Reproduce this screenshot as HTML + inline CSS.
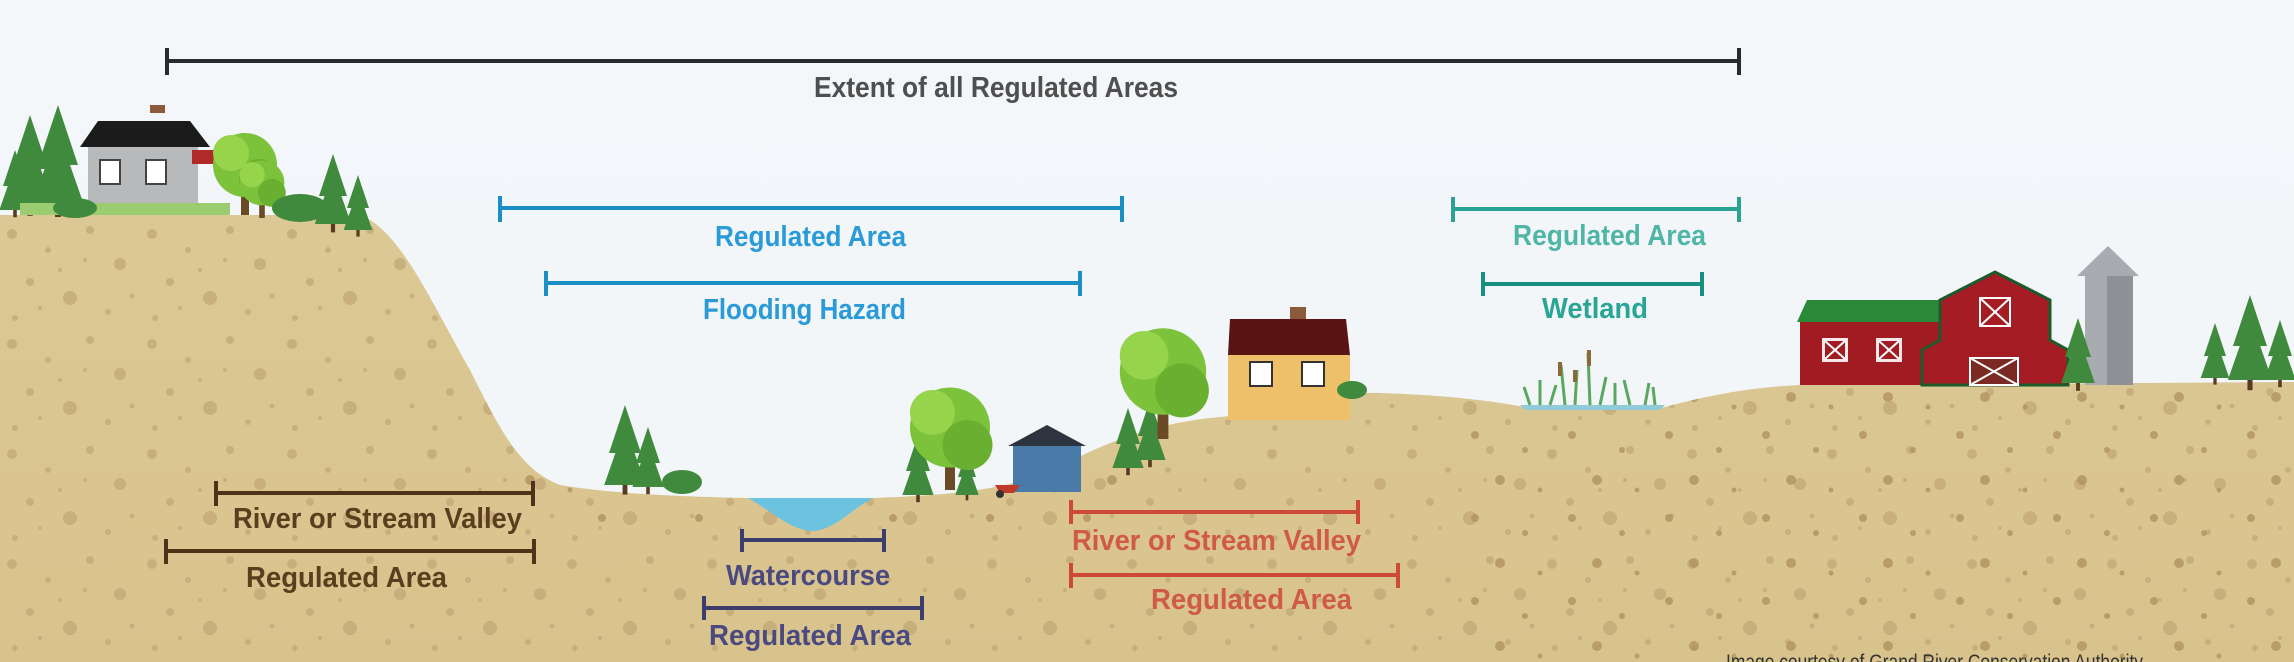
<!DOCTYPE html>
<html><head><meta charset="utf-8"><style>
html,body{margin:0;padding:0;width:2294px;height:662px;overflow:hidden;background:#f3f7fa}
svg{display:block}
text{font-family:"Liberation Sans Narrow","Liberation Sans",sans-serif;font-weight:bold;}
</style></head><body>
<svg width="2294" height="662" viewBox="0 0 2294 662" xmlns="http://www.w3.org/2000/svg">
<defs>
<linearGradient id="sky" x1="0" y1="0" x2="0" y2="1"><stop offset="0" stop-color="#f4f7fa"/><stop offset="1" stop-color="#f1f5f8"/></linearGradient>
<linearGradient id="sand" x1="0" y1="0" x2="0" y2="1"><stop offset="0" stop-color="#dccb98"/><stop offset="1" stop-color="#d9c38d"/></linearGradient>
<pattern id="dots" width="140" height="110" patternUnits="userSpaceOnUse">
<g fill="#c2a877" opacity="0.75">
<circle cx="12" cy="14" r="5"/><circle cx="48" cy="30" r="3"/><circle cx="90" cy="10" r="4"/><circle cx="120" cy="44" r="6"/>
<circle cx="30" cy="62" r="4"/><circle cx="70" cy="78" r="7"/><circle cx="108" cy="92" r="3"/><circle cx="15" cy="98" r="3"/>
<circle cx="60" cy="50" r="2"/><circle cx="132" cy="76" r="2.5"/><circle cx="85" cy="40" r="2"/><circle cx="40" cy="88" r="2"/>
</g></pattern>
<pattern id="dots2" width="97" height="83" patternUnits="userSpaceOnUse">
<g fill="#b0935f" opacity="0.8">
<circle cx="20" cy="20" r="4"/><circle cx="70" cy="35" r="3"/><circle cx="45" cy="65" r="5"/><circle cx="85" cy="75" r="2.5"/>
</g></pattern>
<g id="pine"><polygon points="0,-100 -20,-40 -12,-40 -26,0 26,0 12,-40 20,-40" fill="#3f8a3c"/><rect x="-3" y="0" width="6" height="12" fill="#5a3b1f"/></g>
<g id="leaf"><rect x="-4" y="0" width="8" height="40" fill="#6b4a26"/><circle cx="0" cy="-10" r="32" fill="#7cc23a"/><circle cx="-14" cy="-22" r="18" fill="#96d44c"/><circle cx="14" cy="4" r="20" fill="#6ab030"/></g>
<clipPath id="gc"><path d="M0,215 L360,215 C400,230 430,300 470,370 C500,430 520,470 560,485 C620,495 700,497 748,498 L873,498 C950,495 1020,490 1069,462 C1130,430 1180,420 1230,416 C1300,402 1340,392 1380,393 C1440,395 1490,400 1529,408 L1661,408 C1720,392 1760,387 1800,385 L2294,382 L2294,662 L0,662 Z"/></clipPath>
</defs>
<rect width="2294" height="662" fill="url(#sky)"/>

<!-- ground -->
<g clip-path="url(#gc)">
<rect width="2294" height="662" fill="url(#sand)"/>
<rect width="2294" height="662" fill="url(#dots)"/>
<rect x="1450" y="380" width="844" height="282" fill="url(#dots2)"/>
<rect x="520" y="470" width="600" height="60" fill="url(#dots2)"/>
</g>
<!-- water -->
<path d="M748,498 L873,498 C850,510 835,530 812,531 C790,530 770,510 748,498 Z" fill="#6cc3e0"/>
<path d="M1520,405 L1665,405 L1660,410 L1525,410 Z" fill="#8fcbd8"/>

<!-- left hilltop scene -->
<use href="#pine" transform="translate(30,205) scale(0.9) translate(-30,-205)" x="30" y="205"/>
<use href="#pine" x="58" y="205"/>
<use href="#pine" x="15" y="210" transform="translate(15,210) scale(0.6) translate(-15,-210)"/>
<rect x="150" y="105" width="15" height="8" fill="#8b5a3a"/>
<polygon points="80,147 98,121 190,121 210,147" fill="#1b1b1b"/>
<rect x="88" y="147" width="110" height="64" fill="#b8b9bb"/>
<g fill="#fff" stroke="#444" stroke-width="2"><rect x="100" y="160" width="20" height="24"/><rect x="146" y="160" width="20" height="24"/></g>
<polygon points="192,150 215,150 215,164 192,164" fill="#b02a2a"/>
<rect x="20" y="203" width="210" height="12" fill="#9bcc70"/>
<use href="#leaf" x="245" y="175"/>
<use href="#leaf" x="262" y="190" transform="translate(262,190) scale(0.7) translate(-262,-190)"/>
<ellipse cx="300" cy="208" rx="28" ry="14" fill="#3f8a3c"/>
<use href="#pine" x="333" y="224" transform="translate(333,224) scale(0.7) translate(-333,-224)"/>
<use href="#pine" x="358" y="230" transform="translate(358,230) scale(0.55) translate(-358,-230)"/>
<ellipse cx="75" cy="208" rx="22" ry="10" fill="#3f8a3c"/>

<!-- valley trees -->
<use href="#pine" x="625" y="485" transform="translate(625,485) scale(0.8) translate(-625,-485)"/>
<use href="#pine" x="648" y="487" transform="translate(648,487) scale(0.6) translate(-648,-487)"/>
<ellipse cx="682" cy="482" rx="20" ry="12" fill="#3f8a3c"/>
<use href="#pine" x="918" y="495" transform="translate(918,495) scale(0.6) translate(-918,-495)"/>
<use href="#pine" x="967" y="495" transform="translate(967,495) scale(0.45) translate(-967,-495)"/>
<use href="#leaf" x="950" y="440" transform="translate(950,440) scale(1.25) translate(-950,-440)"/>
<!-- shed -->
<polygon points="1008,446 1047,425 1086,446" fill="#2d3440"/>
<rect x="1013" y="446" width="68" height="46" fill="#4a7aa8"/>
<path d="M995,485 l25,0 l-6,8 l-14,0 Z" fill="#c0392b"/><circle cx="1000" cy="494" r="4" fill="#333"/>
<use href="#pine" x="1128" y="468" transform="translate(1128,468) scale(0.6) translate(-1128,-468)"/>
<use href="#pine" x="1150" y="460" transform="translate(1150,460) scale(0.6) translate(-1150,-460)"/>
<use href="#leaf" x="1163" y="385" transform="translate(1163,385) scale(1.35) translate(-1163,-385)"/>
<!-- yellow house -->
<rect x="1290" y="307" width="16" height="12" fill="#8b5a3a"/>
<polygon points="1228,355 1230,319 1346,319 1350,355" fill="#5a1414"/>
<rect x="1228" y="355" width="122" height="65" fill="#efc06a"/>
<g fill="#fff" stroke="#333" stroke-width="2"><rect x="1250" y="362" width="22" height="24"/><rect x="1302" y="362" width="22" height="24"/></g>
<ellipse cx="1352" cy="390" rx="15" ry="9" fill="#3f8a3c"/>
<!-- wetland plants -->
<g stroke="#5aa860" stroke-width="3" fill="none">
<path d="M1530,405 l-6,-18 M1540,405 l0,-25 M1550,405 l6,-20 M1565,405 l-4,-40 M1575,405 l2,-35 M1590,405 l-2,-52 M1600,405 l6,-28 M1615,405 l0,-22 M1630,405 l-6,-25 M1645,405 l4,-22 M1655,405 l-2,-18"/></g>
<g fill="#8a6a3a"><rect x="1558" y="362" width="4" height="14"/><rect x="1587" y="350" width="4" height="16"/><rect x="1573" y="370" width="4" height="12"/></g>
<!-- barn -->
<polygon points="1797,322 1807,300 1940,300 1940,322" fill="#2a8a3a"/>
<rect x="1800" y="322" width="140" height="63" fill="#a01c22"/>
<g fill="#fff"><rect x="1822" y="338" width="26" height="24" opacity="0.9"/><rect x="1876" y="338" width="26" height="24" opacity="0.9"/></g>
<g fill="#a01c22"><rect x="1825" y="341" width="20" height="18"/><rect x="1879" y="341" width="20" height="18"/></g>
<g stroke="#fff" stroke-width="2"><path d="M1825,341 l20,18 M1845,341 l-20,18 M1879,341 l20,18 M1899,341 l-20,18"/></g>
<polygon points="1922,350 1940,340 1940,300 1995,272 2050,300 2050,340 2068,350 2068,385 1922,385" fill="#a61c24" stroke="#1d5a2a" stroke-width="3"/>
<rect x="1970" y="358" width="48" height="27" fill="#7a2a22" stroke="#fff" stroke-width="2"/>
<path d="M1970,358 l48,27 M2018,358 l-48,27" stroke="#fff" stroke-width="2"/>
<rect x="1980" y="298" width="30" height="28" fill="none" stroke="#fff" stroke-width="2"/>
<path d="M1980,298 l30,28 M2010,298 l-30,28" stroke="#fff" stroke-width="2"/>
<!-- silo -->
<polygon points="2077,276 2108,246 2139,276" fill="#a8abb0"/>
<rect x="2085" y="276" width="48" height="109" fill="#8e9196"/>
<rect x="2085" y="276" width="22" height="109" fill="#a8abb0"/>
<use href="#pine" x="2078" y="383" transform="translate(2078,383) scale(0.65) translate(-2078,-383)"/>
<use href="#pine" x="2215" y="378" transform="translate(2215,378) scale(0.55) translate(-2215,-378)"/>
<use href="#pine" x="2250" y="380" transform="translate(2250,380) scale(0.85) translate(-2250,-380)"/>
<use href="#pine" x="2280" y="380" transform="translate(2280,380) scale(0.6) translate(-2280,-380)"/>

<!-- dimension lines -->
<g stroke-width="4" fill="none">
<g stroke="#2a2a2a"><path d="M167,61 H1739 M167,48 V75 M1739,48 V75"/></g>
<g stroke="#1a8fc4"><path d="M500,208 H1122 M500,196 V222 M1122,196 V222 M546,283 H1080 M546,271 V296 M1080,271 V296"/></g>
<g stroke="#2aa395"><path d="M1453,209 H1739 M1453,197 V222 M1739,197 V222"/></g>
<g stroke="#17907f"><path d="M1483,284 H1702 M1483,272 V296 M1702,272 V296"/></g>
<g stroke="#4e3318"><path d="M216,493 H533 M216,481 V506 M533,481 V506 M166,551 H534 M166,539 V564 M534,539 V564"/></g>
<g stroke="#3d3d6e"><path d="M742,540 H884 M742,529 V552 M884,529 V552 M704,608 H922 M704,596 V620 M922,596 V620"/></g>
<g stroke="#cd4b36"><path d="M1071,512 H1358 M1071,500 V524 M1358,500 V524 M1071,575 H1398 M1071,563 V588 M1398,563 V588"/></g>
</g>

<!-- labels -->
<text x="814" y="97" font-size="29" fill="#4f4f4f" textLength="364" lengthAdjust="spacingAndGlyphs">Extent of all Regulated Areas</text>
<text x="715" y="246" font-size="29" fill="#2a9ad8" textLength="191" lengthAdjust="spacingAndGlyphs">Regulated Area</text>
<text x="703" y="319" font-size="29" fill="#2a9ad8" textLength="203" lengthAdjust="spacingAndGlyphs">Flooding Hazard</text>
<text x="1513" y="245" font-size="29" fill="#4fb5a6" textLength="193" lengthAdjust="spacingAndGlyphs">Regulated Area</text>
<text x="1542" y="318" font-size="29" fill="#2aa595" textLength="106" lengthAdjust="spacingAndGlyphs">Wetland</text>
<text x="233" y="528" font-size="29" fill="#5a3e1e" textLength="289" lengthAdjust="spacingAndGlyphs">River or Stream Valley</text>
<text x="246" y="587" font-size="29" fill="#5a3e1e" textLength="201" lengthAdjust="spacingAndGlyphs">Regulated Area</text>
<text x="726" y="585" font-size="29" fill="#4a4a80" textLength="164" lengthAdjust="spacingAndGlyphs">Watercourse</text>
<text x="709" y="645" font-size="29" fill="#4a4a80" textLength="202" lengthAdjust="spacingAndGlyphs">Regulated Area</text>
<text x="1072" y="550" font-size="29" fill="#d05a48" textLength="289" lengthAdjust="spacingAndGlyphs">River or Stream Valley</text>
<text x="1151" y="609" font-size="29" fill="#d05a48" textLength="201" lengthAdjust="spacingAndGlyphs">Regulated Area</text>
<text x="1726" y="669" font-size="21" style="font-weight:normal" fill="#333" textLength="417" lengthAdjust="spacingAndGlyphs">Image courtesy of Grand River Conservation Authority</text>
</svg>
</body></html>
